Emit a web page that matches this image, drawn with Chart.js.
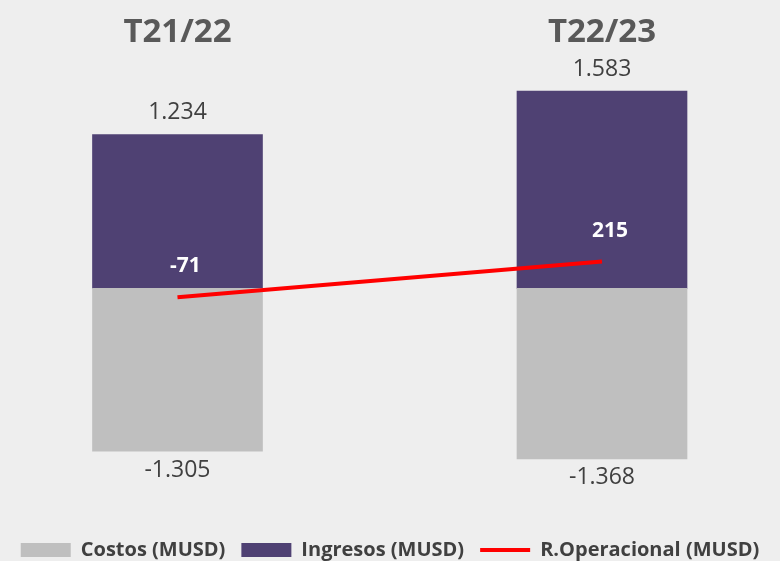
<!DOCTYPE html>
<html>
<head>
<meta charset="utf-8">
<title>Resultado operacional</title>
<style>
html, body { margin: 0; padding: 0; background: #eeeeee; }
#wrap { position: relative; width: 780px; height: 561px; }
</style>
</head>
<body>
<div id="wrap"><canvas id="chart"></canvas></div>
<script src="https://cdn.jsdelivr.net/npm/chart.js"></script>
<script>
  const categories = ['T21/22', 'T22/23'];
  const costos = [-1305, -1368];
  const ingresos = [1234, 1583];
  const operacional = [-71, 215];

  // 1234 -> "1.234"
  function fmt(v) {
    let s = String(Math.abs(v)).replace(/\B(?=(\d{3})+(?!\d))/g, '.');
    return (v < 0 ? '-' : '') + s;
  }

  function points(arr) {
    return arr.map((v, i) => ({ x: i, y: v }));
  }

  const valueLabels = {
    id: 'valueLabels',
    afterDatasetsDraw(chart) {
      const c = chart.ctx;
      c.save();
      c.textAlign = 'center';
      c.textBaseline = 'middle';
      chart.data.datasets.forEach((ds, di) => {
        const meta = chart.getDatasetMeta(di);
        meta.data.forEach((el, i) => {
          const v = ds.data[i].y;
          if (ds.type === 'line') {
            c.font = 'bold 21px "Open Sans"';
            c.fillStyle = '#ffffff';
            c.fillText(fmt(v), el.x + 8, el.y - 31);
          } else {
            c.font = '23px "Open Sans"';
            c.fillStyle = '#404040';
            c.fillText(fmt(v), el.x, v < 0 ? el.y + 19 : el.y - 22);
          }
        });
      });
      c.restore();
    }
  };

  new Chart(document.getElementById('chart'), {
    type: 'bar',
    data: {
      datasets: [{
        label: 'Costos (MUSD)',
        data: points(costos),
        backgroundColor: '#bfbfbf',
        borderWidth: 0,
        barThickness: 170,
        order: 1
      }, {
        label: 'Ingresos (MUSD)',
        data: points(ingresos),
        backgroundColor: '#4f4173',
        borderWidth: 0,
        barThickness: 170,
        order: 1
      }, {
        type: 'line',
        label: 'R.Operacional (MUSD)',
        data: points(operacional),
        borderColor: '#ff0000',
        backgroundColor: '#ff0000',
        borderWidth: 4,
        pointRadius: 0,
        order: 0
      }]
    },
    options: {
      responsive: true,
      maintainAspectRatio: false,
      animation: false,
      layout: { padding: { top: 10, left: 0, right: 0, bottom: -9 } },
      scales: {
        x: {
          type: 'linear',
          position: 'top',
          stacked: true,
          offset: false,
          min: -0.4181,
          max: 1.4193,
          afterBuildTicks(scale) {
            scale.ticks = categories.map((c, i) => ({ value: i }));
          },
          ticks: {
            callback: (v) => categories[v],
            color: '#595959',
            font: { family: 'Open Sans', size: 33, weight: 'bold' },
            padding: 3,
            maxRotation: 0
          },
          grid: { display: false, drawTicks: false },
          border: { display: false }
        },
        y: {
          display: false,
          stacked: true,
          min: -1890,
          max: 1867
        }
      },
      plugins: {
        tooltip: { enabled: false },
        legend: {
          position: 'bottom',
          labels: {
            usePointStyle: true,
            pointStyleWidth: 50,
            boxHeight: 14,
            padding: 16,
            color: '#404040',
            font: { family: 'Open Sans', size: 20, weight: 'bold' },
            sort: (a, b) => a.datasetIndex - b.datasetIndex,
            generateLabels(chart) {
              const items = Chart.defaults.plugins.legend.labels.generateLabels(chart);
              items.forEach((it) => {
                const ds = chart.data.datasets[it.datasetIndex];
                it.pointStyle = ds.type === 'line' ? 'line' : 'rect';
                if (ds.type !== 'line') it.lineWidth = 0;
              });
              return items;
            }
          }
        }
      }
    },
    plugins: [valueLabels]
  });
</script>
</body>
</html>
